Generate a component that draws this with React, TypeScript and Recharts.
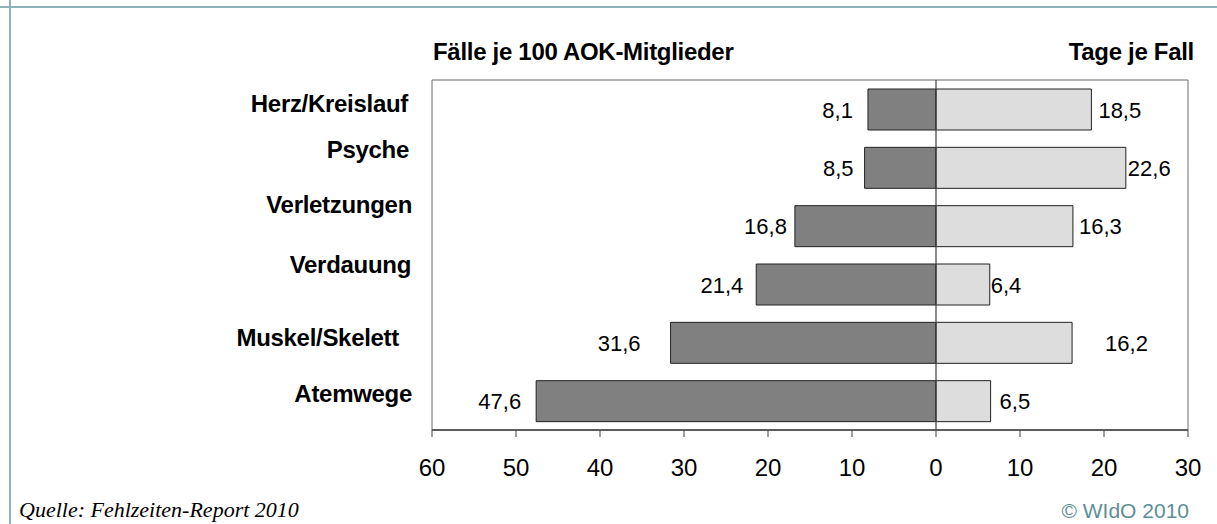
import React from 'react';
import { BarChart, Bar, XAxis, YAxis, ReferenceLine, ReferenceArea, LabelList } from 'recharts';

const categories = ['Herz/Kreislauf', 'Psyche', 'Verletzungen', 'Verdauung', 'Muskel/Skelett', 'Atemwege'];
const faelleJe100 = [8.1, 8.5, 16.8, 21.4, 31.6, 47.6];
const tageJeFall = [18.5, 22.6, 16.3, 6.4, 16.2, 6.5];
const xTicks = [-60, -50, -40, -30, -20, -10, 0, 10, 20, 30];
const leftTitle = 'Fälle je 100 AOK-Mitglieder';
const rightTitle = 'Tage je Fall';
const sourceText = 'Quelle: Fehlzeiten-Report 2010';
const copyrightText = '© WIdO 2010';

const data = categories.map((name, i) => ({ name, faelle: -faelleJe100[i], tage: tageJeFall[i] }));

// label placement style tweaks (relative offsets)
const catDx = [0, 1, 4, 3, -9, 4];
const catBaseline = [3, -10, -13, -11, 3, 1];
const leftGap = [15, 11, 8, 13, 30, 15];
const rightGap = [7, 2, 6, 1, 33, 9];

const FONT = '"Liberation Sans", Arial, sans-serif';
const fmt = (v: number) => Math.abs(v).toFixed(1).replace('.', ',');

const CatTick = (props: any) => {
  const { x, y, payload, index } = props;
  return (
    <text x={x - 24 + catDx[index]} y={y + catBaseline[index]} textAnchor="end" fontSize={24} fontWeight="bold" fill="#000" fontFamily={FONT} letterSpacing={-0.3}>
      {payload.value}
    </text>
  );
};

const LeftLabel = (props: any) => {
  const { x, y, width, height, value, index } = props;
  const left = Math.min(x, x + width);
  return (
    <text x={left - leftGap[index]} y={y + height / 2 + 8} textAnchor="end" fontSize={22} fill="#000" fontFamily={FONT}>
      {fmt(value)}
    </text>
  );
};

const RightLabel = (props: any) => {
  const { x, y, width, height, value, index } = props;
  const right = Math.max(x, x + width);
  return (
    <text x={right + rightGap[index]} y={y + height / 2 + 8} textAnchor="start" fontSize={22} fill="#000" fontFamily={FONT}>
      {fmt(value)}
    </text>
  );
};

export default function App() {
  return (
    <div style={{ position: 'absolute', left: 0, top: 0, width: 1217, height: 524, overflow: 'hidden', background: '#fff', fontFamily: FONT }}>
      <div style={{ position: 'absolute', left: 0, top: 6, width: 1217, height: 2, background: '#8DB3B9' }} />
      <div style={{ position: 'absolute', left: 9, top: 0, width: 2, height: 524, background: '#8DB3B9' }} />
      <div style={{ position: 'absolute', left: 433, top: 40, fontSize: 24, fontWeight: 'bold', whiteSpace: 'nowrap', lineHeight: '24px', letterSpacing: -0.3 }}>{leftTitle}</div>
      <div style={{ position: 'absolute', right: 1217 - 1194, top: 40, fontSize: 24, fontWeight: 'bold', whiteSpace: 'nowrap', lineHeight: '24px', letterSpacing: -0.3 }}>{rightTitle}</div>
      <div style={{ position: 'absolute', left: 19, top: 498, fontSize: 22, fontStyle: 'italic', fontFamily: '"Liberation Serif", "Times New Roman", serif', whiteSpace: 'nowrap', lineHeight: '24px' }}>{sourceText}</div>
      <div style={{ position: 'absolute', right: 1217 - 1189, top: 499, fontSize: 21, color: '#5E8E95', whiteSpace: 'nowrap', lineHeight: '24px' }}>{copyrightText}</div>
      <div style={{ position: 'absolute', left: 0, top: 0 }}>
        <BarChart
          width={1217}
          height={524}
          data={data}
          layout="vertical"
          stackOffset="sign"
          barSize={41}
          margin={{ top: 80, right: 29, bottom: 34, left: 0 }}
          style={{ fontFamily: FONT }}
        >
          <XAxis
            type="number"
            domain={[-60, 30]}
            ticks={xTicks}
            tickFormatter={(v: number) => String(Math.abs(v))}
            axisLine={{ stroke: '#404040', strokeWidth: 1.5 }}
            tickLine={{ stroke: '#404040' }}
            tickSize={7}
            tickMargin={22}
            tick={{ fontSize: 24, fill: '#000', fontFamily: FONT }}
            height={60}
            allowDataOverflow
          />
          <YAxis
            type="category"
            dataKey="name"
            width={432}
            axisLine={false}
            tickLine={false}
            tickSize={0}
            tickMargin={0}
            interval={0}
            tick={<CatTick />}
          />
          <ReferenceArea x1={-60} x2={30} fill="none" stroke="#6b6b6b" strokeWidth={1} ifOverflow="visible" />
          <Bar dataKey="faelle" stackId="s" fill="#808080" stroke="#222" strokeWidth={1} isAnimationActive={false}>
            <LabelList dataKey="faelle" content={<LeftLabel />} />
          </Bar>
          <Bar dataKey="tage" stackId="s" fill="#DDDDDD" stroke="#222" strokeWidth={1} isAnimationActive={false}>
            <LabelList dataKey="tage" content={<RightLabel />} />
          </Bar>
          <ReferenceLine x={0} stroke="#404040" strokeWidth={1.2} />
        </BarChart>
      </div>
    </div>
  );
}
